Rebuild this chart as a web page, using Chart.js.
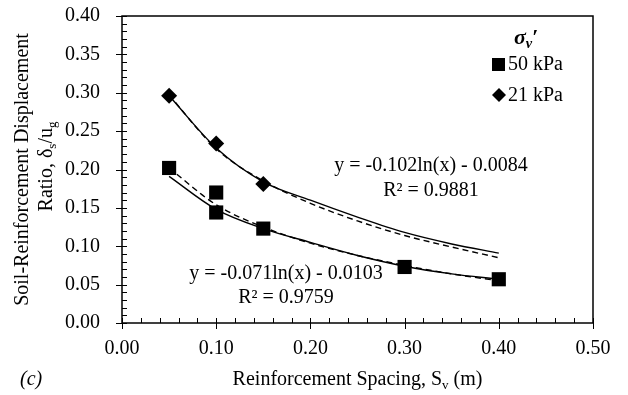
<!DOCTYPE html>
<html>
<head>
<meta charset="utf-8">
<script src="https://cdn.jsdelivr.net/npm/chart.js@4.4.1/dist/chart.umd.min.js"></script>
<style>
  html, body { margin: 0; padding: 0; background: #fff; }
  #wrap { width: 628px; height: 395px; }
</style>
</head>
<body>
<div id="wrap"><canvas id="myChart" width="628" height="395"></canvas></div>
<script>
const spacing50 = [0.05, 0.10, 0.10, 0.15, 0.30, 0.40];
const ratio50   = [0.202, 0.170, 0.144, 0.123, 0.073, 0.057];
const spacing21 = [0.05, 0.10, 0.15];
const ratio21   = [0.296, 0.234, 0.181];

// curves, values
const curveX      = [0.05, 0.10, 0.15, 0.20, 0.25, 0.30, 0.35, 0.40];
const solid21     = [0.296, 0.228, 0.184, 0.160, 0.138, 0.118, 0.103, 0.091];
const dashed21    = [0.297, 0.227, 0.185, 0.156, 0.133, 0.114, 0.099, 0.085];
const solid50     = [0.191, 0.148, 0.123, 0.105, 0.088, 0.074, 0.064, 0.057];
const dashed50    = [0.202, 0.154, 0.125, 0.104, 0.088, 0.075, 0.064, 0.055];

const xTicks = [0, 0.1, 0.2, 0.3, 0.4, 0.5];
const yTicks = [0, 0.05, 0.1, 0.15, 0.2, 0.25, 0.3, 0.35, 0.4];

const serif = '"Liberation Serif", "Times New Roman", serif';
const fs = 20;

function pts(xs, ys) {
  return xs.map((x, i) => ({ x: x, y: ys[i] }));
}

function lineSet(ys, dash) {
  return {
    data: pts(curveX, ys),
    showLine: true,
    borderColor: '#000',
    borderWidth: 1.4,
    borderDash: dash,
    pointRadius: 0,
    cubicInterpolationMode: 'monotone',
    fill: false
  };
}

// draw a line of text made of runs, some of them subscript
function richText(ctx, runs, x, y, size, align) {
  let w = 0;
  runs.forEach(r => {
    ctx.font = (r.style || '') + ' ' + (r.sub ? size * 0.65 : size) + 'px ' + serif;
    r.w = ctx.measureText(r.t).width;
    w += r.w;
  });
  let cx = align === 'center' ? x - w / 2 : x;
  runs.forEach(r => {
    ctx.font = (r.style || '') + ' ' + (r.sub ? size * 0.65 : size) + 'px ' + serif;
    ctx.fillText(r.t, cx, r.sub ? y + size * 0.3 : y);
    cx += r.w;
  });
}

const decor = {
  id: 'decor',
  afterDraw(chart) {
    const ctx = chart.ctx;
    const a = chart.chartArea;
    const xs = chart.scales.x, ys = chart.scales.y;
    ctx.save();
    ctx.strokeStyle = '#000';
    ctx.lineWidth = 1.5;
    ctx.strokeRect(a.left, a.top, a.right - a.left, a.bottom - a.top);

    // ticks: majors cross the axis, minors inside
    ctx.lineWidth = 1;
    ctx.beginPath();
    for (let i = 0; i <= 40; i++) {
      const py = Math.round(ys.getPixelForValue(i * 0.01)) + 0.5;
      const major = i % 5 === 0;
      ctx.moveTo(a.left - (major ? 6 : 0), py);
      ctx.lineTo(a.left + 5, py);
    }
    for (let i = 0; i <= 25; i++) {
      const px = Math.round(xs.getPixelForValue(i * 0.02)) + 0.5;
      const major = i % 5 === 0;
      ctx.moveTo(px, a.bottom + (major ? 6 : 0));
      ctx.lineTo(px, a.bottom - 5);
    }
    ctx.stroke();

    ctx.fillStyle = '#000';
    ctx.textBaseline = 'middle';
    ctx.textAlign = 'left';
    // equations
    richText(ctx, [{ t: 'y = -0.102ln(x) - 0.0084' }], 431, 166, fs, 'center');
    richText(ctx, [{ t: 'R² = 0.9881' }], 431, 191, fs, 'center');
    richText(ctx, [{ t: 'y = -0.071ln(x) - 0.0103' }], 286, 274, fs, 'center');
    richText(ctx, [{ t: 'R² = 0.9759' }], 286, 298, fs, 'center');

    // legend
    richText(ctx, [{ t: 'σ', style: 'italic bold' }, { t: 'v', style: 'italic bold', sub: true }, { t: '′', style: 'bold' }], 514, 38, 22, 'left');
    ctx.fillRect(492, 58, 13, 13);
    richText(ctx, [{ t: '50 kPa' }], 508, 65, fs, 'left');
    ctx.beginPath();
    ctx.moveTo(499, 88); ctx.lineTo(506, 95); ctx.lineTo(499, 102); ctx.lineTo(492, 95);
    ctx.closePath(); ctx.fill();
    richText(ctx, [{ t: '21 kPa' }], 508, 96, fs, 'left');

    // axis titles
    richText(ctx, [{ t: 'Reinforcement Spacing, S' }, { t: 'v', sub: true }, { t: ' (m)' }], (a.left + a.right) / 2, 380, fs, 'center');
    ctx.save();
    ctx.translate(23, (a.top + a.bottom) / 2);
    ctx.rotate(-Math.PI / 2);
    richText(ctx, [{ t: 'Soil-Reinforcement Displacement' }], 0, 0, fs, 'center');
    ctx.restore();
    ctx.save();
    ctx.translate(47, (a.top + a.bottom) / 2 - 3);
    ctx.rotate(-Math.PI / 2);
    richText(ctx, [{ t: 'Ratio, δ' }, { t: 's', sub: true }, { t: '/u' }, { t: 'g', sub: true }], 0, 0, fs, 'center');
    ctx.restore();

    richText(ctx, [{ t: '(c)', style: 'italic' }], 20, 380, fs, 'left');
    ctx.restore();
  }
};

const config = {
  type: 'scatter',
  data: {
    datasets: [
      {
        label: '50 kPa',
        data: pts(spacing50, ratio50),
        pointStyle: 'rect',
        pointRadius: 10,
        backgroundColor: '#000',
        borderColor: '#000',
        borderWidth: 0
      },
      {
        label: '21 kPa',
        data: pts(spacing21, ratio21),
        pointStyle: 'rectRot',
        pointRadius: 8,
        backgroundColor: '#000',
        borderColor: '#000',
        borderWidth: 0
      },
      lineSet(solid21, []),
      lineSet(dashed21, [6, 4]),
      lineSet(solid50, []),
      lineSet(dashed50, [6, 4])
    ]
  },
  options: {
    responsive: false,
    animation: false,
    layout: { padding: { left: 0, right: 35, top: 16, bottom: 0 } },
    plugins: { legend: { display: false }, tooltip: { enabled: false } },
    scales: {
      x: {
        type: 'linear',
        min: 0, max: 0.5,
        afterBuildTicks: s => { s.ticks = xTicks.map(v => ({ value: v })); },
        afterFit: s => { s.height = 72; s.paddingLeft = 0; s.paddingRight = 0; },
        grid: { display: false, drawTicks: false },
        border: { display: false },
        ticks: {
          padding: 14,
          color: '#000',
          font: { family: serif, size: fs },
          callback: v => Number(v).toFixed(2)
        }
      },
      y: {
        type: 'linear',
        min: 0, max: 0.4,
        afterBuildTicks: s => { s.ticks = yTicks.map(v => ({ value: v })); },
        afterFit: s => { s.width = 122; s.paddingTop = 0; s.paddingBottom = 0; },
        grid: { display: false, drawTicks: false },
        border: { display: false },
        ticks: {
          padding: 22,
          color: '#000',
          font: { family: serif, size: fs },
          callback: v => Number(v).toFixed(2)
        }
      }
    }
  },
  plugins: [decor]
};

const myChart = new Chart(document.getElementById('myChart'), config);
</script>
</body>
</html>
